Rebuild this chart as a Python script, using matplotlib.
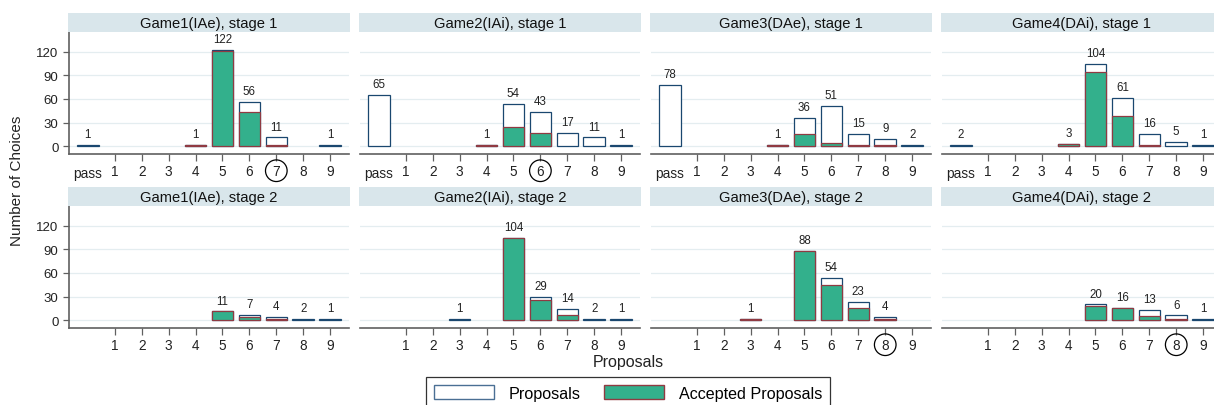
import matplotlib
matplotlib.use("Agg")
import matplotlib.pyplot as plt
from matplotlib.patches import Patch

plt.rcParams['font.family'] = ['Liberation Sans', 'DejaVu Sans']

categories = ['pass', '1', '2', '3', '4', '5', '6', '7', '8', '9']

titles = [
    'Game1(IAe), stage 1', 'Game2(IAi), stage 1', 'Game3(DAe), stage 1', 'Game4(DAi), stage 1',
    'Game1(IAe), stage 2', 'Game2(IAi), stage 2', 'Game3(DAe), stage 2', 'Game4(DAi), stage 2',
]

g1s1_prop = [1, 0, 0, 0, 1, 122, 56, 11, 0, 1]
g1s1_acc = [0, 0, 0, 0, 1, 121, 43, 1, 0, 0]
g2s1_prop = [65, 0, 0, 0, 1, 54, 43, 17, 11, 1]
g2s1_acc = [0, 0, 0, 0, 1, 24, 17, 0, 0, 0]
g3s1_prop = [78, 0, 0, 0, 1, 36, 51, 15, 9, 2]
g3s1_acc = [0, 0, 0, 0, 1, 15, 4, 1, 1, 0]
g4s1_prop = [2, 0, 0, 0, 3, 104, 61, 16, 5, 1]
g4s1_acc = [0, 0, 0, 0, 3, 94, 38, 1, 0, 0]
g1s2_prop = [0, 0, 0, 0, 0, 11, 7, 4, 2, 1]
g1s2_acc = [0, 0, 0, 0, 0, 11, 4, 2, 0, 0]
g2s2_prop = [0, 0, 0, 1, 0, 104, 29, 14, 2, 1]
g2s2_acc = [0, 0, 0, 0, 0, 104, 25, 6, 0, 0]
g3s2_prop = [0, 0, 0, 1, 0, 88, 54, 23, 4, 0]
g3s2_acc = [0, 0, 0, 1, 0, 88, 44, 15, 2, 0]
g4s2_prop = [0, 0, 0, 0, 0, 20, 16, 13, 6, 1]
g4s2_acc = [0, 0, 0, 0, 0, 18, 15, 5, 2, 0]

proposals = [g1s1_prop, g2s1_prop, g3s1_prop, g4s1_prop,
             g1s2_prop, g2s2_prop, g3s2_prop, g4s2_prop]
accepted = [g1s1_acc, g2s1_acc, g3s1_acc, g4s1_acc,
            g1s2_acc, g2s2_acc, g3s2_acc, g4s2_acc]
circled = ['7', '6', None, None, None, None, '8', '8']

yticks = [0, 30, 60, 90, 120]

W, H = 1214, 406
fig = plt.figure(figsize=(W / 100, H / 100), dpi=100)

NAVY = '#1a476f'
GREEN = '#33b08c'
MAROON = '#903a42'
STRIP = '#d9e6eb'
GRID = '#e4edf0'
SPINE = '#606060'

col_left = [69, 360, 651, 942]
pw = 280
rows = [(33, 155), (207, 329)]
strip_h = 19

for i in range(8):
    r, c = divmod(i, 4)
    top, bot = rows[r]
    left = col_left[c]
    ax = fig.add_axes([left / W, 1 - bot / H, pw / W, (bot - top) / H])
    sax = fig.add_axes([(left - 1) / W, 1 - top / H, (pw + 2) / W, strip_h / H])
    sax.set_facecolor(STRIP)
    for s in sax.spines.values():
        s.set_visible(False)
    sax.set_xticks([]); sax.set_yticks([])
    sax.text(0.5, 0.45, titles[i], ha='center', va='center', fontsize=10.6, color='#111111')

    x = list(range(len(categories)))
    prop = proposals[i]
    acc = accepted[i]
    px = [xi for xi, v in zip(x, prop) if v > 0]
    pv = [v for v in prop if v > 0]
    ax.bar(px, pv, width=0.8, facecolor='white', edgecolor=NAVY, linewidth=0.9, zorder=3)
    ax_x = [xi for xi, v in zip(x, acc) if v > 0]
    av = [v for v in acc if v > 0]
    ax.bar(ax_x, av, width=0.8, facecolor=GREEN, edgecolor=MAROON, linewidth=0.9, zorder=4)
    for xi, v in zip(px, pv):
        ax.annotate(str(v), (xi, v), xytext=(0, 3.5), textcoords='offset points',
                    ha='center', va='bottom', fontsize=8.3, color='#222222')

    ax.set_xlim(-0.7, 9.7)
    ax.set_ylim(-10, 145)
    ax.set_yticks(yticks)
    ax.grid(axis='y', color=GRID, linewidth=0.9, zorder=0)
    ax.set_axisbelow(True)
    for s in ['top', 'right']:
        ax.spines[s].set_visible(False)
    ax.spines['bottom'].set_color(SPINE)
    ax.spines['bottom'].set_linewidth(1.2)
    if c == 0:
        ax.spines['left'].set_color(SPINE)
        ax.spines['left'].set_linewidth(1.2)
        ax.tick_params(axis='y', colors=SPINE, labelcolor='#222222', labelsize=9.5, length=4, width=0.9)
    else:
        ax.spines['left'].set_visible(False)
        ax.tick_params(axis='y', left=False, labelleft=False)

    if r == 0:
        ax.set_xticks(x)
        ax.set_xticklabels(categories)
        ax.xaxis.get_major_ticks()[0].tick1line.set_visible(False)
    else:
        ax.set_xticks(x[1:])
        ax.set_xticklabels(categories[1:])
    ax.tick_params(axis='x', colors=SPINE, labelcolor='#222222', labelsize=9.8, length=5, width=0.9, pad=2)
    for lab in ax.get_xticklabels():
        if lab.get_text() == 'pass':
            lab.set_va('top')
            lab.set_y(-0.02)
        if circled[i] is not None and lab.get_text() == circled[i]:
            lab.set_bbox(dict(boxstyle='circle,pad=0.28', facecolor='none', edgecolor='black', linewidth=0.9))

fig.text(17 / W, 1 - 181 / H, 'Number of Choices', rotation=90, ha='center', va='center',
         fontsize=11, color='#222222')
fig.text(628 / W, 1 - 363 / H, 'Proposals', ha='center', va='center', fontsize=11.5, color='#222222')

handles = [Patch(facecolor='white', edgecolor='#4a6f94', linewidth=1.0, label='Proposals'),
           Patch(facecolor=GREEN, edgecolor=MAROON, linewidth=1.0, label='Accepted Proposals')]
leg = fig.legend(handles=handles, loc='upper center', bbox_to_anchor=(628 / W, 1 - 378 / H),
                 ncol=2, fontsize=11.6, frameon=True, fancybox=False, edgecolor='black',
                 handlelength=3.7, handleheight=1.0, handletextpad=0.9, columnspacing=1.5,
                 borderpad=0.5, borderaxespad=0)
leg.get_frame().set_linewidth(0.9)

fig.savefig('out.png', dpi=100)
